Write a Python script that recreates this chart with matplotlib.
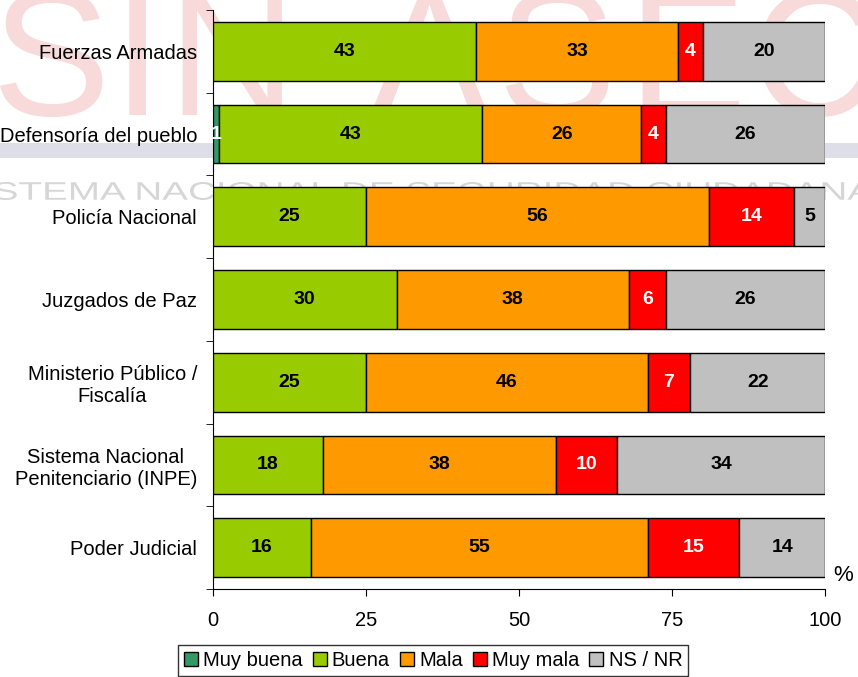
import numpy as np
import matplotlib.pyplot as plt
from matplotlib.patches import Rectangle, PathPatch
from matplotlib.textpath import TextPath
from matplotlib.font_manager import FontProperties
from matplotlib.transforms import Affine2D

plt.rcParams['font.family'] = ['Liberation Sans', 'DejaVu Sans']

categories = ['Fuerzas Armadas', 'Defensoría del pueblo', 'Policía Nacional',
              'Juzgados de Paz', 'Ministerio Público /\nFiscalía',
              'Sistema Nacional\nPenitenciario (INPE)', 'Poder Judicial']
series = ['Muy buena', 'Buena', 'Mala', 'Muy mala', 'NS / NR']
muy_buena = [0, 1, 0, 0, 0, 0, 0]
buena = [43, 43, 25, 30, 25, 18, 16]
mala = [33, 26, 56, 38, 46, 38, 55]
muy_mala = [4, 4, 14, 6, 7, 10, 15]
ns_nr = [20, 26, 5, 26, 22, 34, 14]
xticks = [0, 25, 50, 75, 100]

colors = ['#339966', '#99CC00', '#FF9900', '#FF0000', '#C0C0C0']
text_colors = ['white', 'black', 'black', 'white', 'black']

W, H = 858, 677
fig = plt.figure(figsize=(W / 100, H / 100), dpi=100)

# watermark behind the chart
for letter, xpos in zip('SINASEC', [0.06, 0.16, 0.27, 0.50, 0.65, 0.80, 0.95]):
    fig.text(xpos, 1.02, letter, fontsize=128, color='#f8dada', ha='center', va='top', zorder=-2)
fig.patches.append(Rectangle((0, 1 - 158 / H), 1, 15 / H, transform=fig.transFigure,
                             facecolor='#dedee9', edgecolor='none', zorder=-2))
tp = TextPath((0, 0), 'SISTEMA NACIONAL DE SEGURIDAD CIUDADANA', size=20,
              prop=FontProperties(family='Liberation Sans'))
ext = tp.get_extents()
sx = 915 / ext.width
sy = 18 / ext.height
tr = Affine2D().translate(-ext.x0, -ext.y0).scale(sx, sy).translate(-42, H - 200)
fig.patches.append(PathPatch(tp, transform=tr, facecolor='#d6d6d6', edgecolor='none', zorder=-2))

ax = fig.add_axes([213 / W, 1 - 589 / H, 612 / W, 579 / H])
ax.patch.set_visible(False)

y = np.arange(len(categories))
left = np.zeros(len(categories))
for name, vals, col, tcol in zip(series, [muy_buena, buena, mala, muy_mala, ns_nr], colors, text_colors):
    vals = np.array(vals)
    ax.barh(y, vals, left=left, height=0.71, color=col, edgecolor='black', linewidth=1,
            label=name, zorder=3)
    for yi, l, v in zip(y, left, vals):
        if v > 0:
            ax.text(l + v / 2, yi, str(v), ha='center', va='center', fontsize=14,
                    fontweight='bold', color=tcol, zorder=4)
    left += vals

ax.set_xlim(0, 100)
ax.set_ylim(len(categories) - 0.5, -0.5)
ax.set_xticks(xticks)
ax.set_xticklabels([str(t) for t in xticks], fontsize=14.5)
ax.set_yticks(y)
ax.set_yticklabels(categories, fontsize=14.5, multialignment='center')
ax.set_yticks(np.arange(len(categories) + 1) - 0.5, minor=True)
ax.tick_params(axis='y', which='major', length=0, pad=11.5)
ax.tick_params(axis='y', which='minor', length=5, direction='out')
ax.tick_params(axis='x', length=5, direction='out', pad=11)
for s in ['top', 'right']:
    ax.spines[s].set_visible(False)
ax.text(1.03, 0.005, '%', transform=ax.transAxes, fontsize=16, ha='center', va='bottom')

handles, labels = ax.get_legend_handles_labels()
leg = fig.legend(handles, labels, loc='upper center', bbox_to_anchor=(433 / W, 1 - 645 / H),
                 ncol=5, fontsize=14.5, frameon=True, fancybox=False, edgecolor='black',
                 handlelength=0.7, handleheight=0.7, handletextpad=0.25, columnspacing=0.5,
                 borderpad=0.3, borderaxespad=0)
leg.get_frame().set_linewidth(1)

fig.savefig('out.png', dpi=100)
